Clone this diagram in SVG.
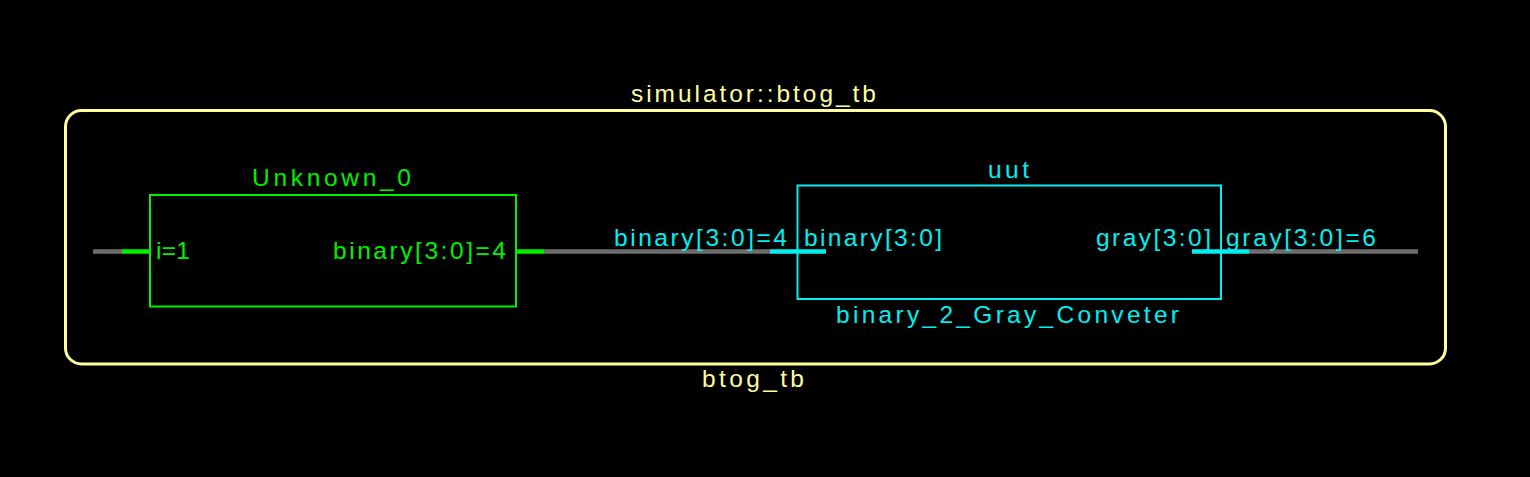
<svg xmlns="http://www.w3.org/2000/svg" width="1530" height="477" viewBox="0 0 1530 477">
<style>
text { font-family: "Liberation Sans", Arial, sans-serif; font-size: 24.5px; }
.y { fill: #ffffa0; }
.g { fill: #00f000; }
.c { fill: #00f0f0; }
.wire { stroke: #6e6e6e; stroke-width: 4.5; fill: none; }
.gpin { stroke: #00f000; stroke-width: 4.5; fill: none; }
.cpin { stroke: #00f0f0; stroke-width: 4.5; fill: none; }
</style>
<rect x="0" y="0" width="1530" height="477" fill="#000000"/>
<g id="btog_tb">
  <rect x="65.5" y="110.5" width="1380" height="253.5" rx="16" ry="16" fill="none" stroke="#ffffa0" stroke-width="3"/>
  <text class="y" x="631" y="102" textLength="245" lengthAdjust="spacing">simulator::btog_tb</text>
  <text class="y" x="702" y="387" textLength="102" lengthAdjust="spacing">btog_tb</text>
</g>
<g id="connectors">
  <line class="wire" x1="93" y1="251.5" x2="122" y2="251.5"/>
  <line class="wire" x1="544" y1="251.5" x2="770" y2="251.5"/>
  <line class="wire" x1="1249" y1="251.5" x2="1418" y2="251.5"/>
</g>
<g id="Unknown_0">
  <rect x="150" y="195" width="366" height="111.5" fill="none" stroke="#00f000" stroke-width="2"/>
  <line class="gpin" x1="122" y1="251.5" x2="150" y2="251.5"/>
  <line class="gpin" x1="516" y1="251.5" x2="544" y2="251.5"/>
  <text class="g" x="252" y="186" textLength="159" lengthAdjust="spacing">Unknown_0</text>
  <text class="g" x="156" y="259" textLength="34" lengthAdjust="spacing">i=1</text>
  <text class="g" x="333" y="259" textLength="173" lengthAdjust="spacing">binary[3:0]=4</text>
</g>
<g id="uut">
  <rect x="797.5" y="185.5" width="423.5" height="113.5" fill="none" stroke="#00f0f0" stroke-width="2"/>
  <line class="cpin" x1="770" y1="251.5" x2="826" y2="251.5"/>
  <line class="cpin" x1="1192" y1="251.5" x2="1249" y2="251.5"/>
  <text class="c" x="988" y="178" textLength="41" lengthAdjust="spacing">uut</text>
  <text class="c" x="614" y="246" textLength="173" lengthAdjust="spacing">binary[3:0]=4</text>
  <text class="c" x="804" y="246" textLength="138" lengthAdjust="spacing">binary[3:0]</text>
  <text class="c" x="836" y="323" textLength="343" lengthAdjust="spacing">binary_2_Gray_Conveter</text>
  <text class="c" x="1096" y="246" textLength="115" lengthAdjust="spacing">gray[3:0]</text>
  <text class="c" x="1226" y="246" textLength="150" lengthAdjust="spacing">gray[3:0]=6</text>
</g>
</svg>
